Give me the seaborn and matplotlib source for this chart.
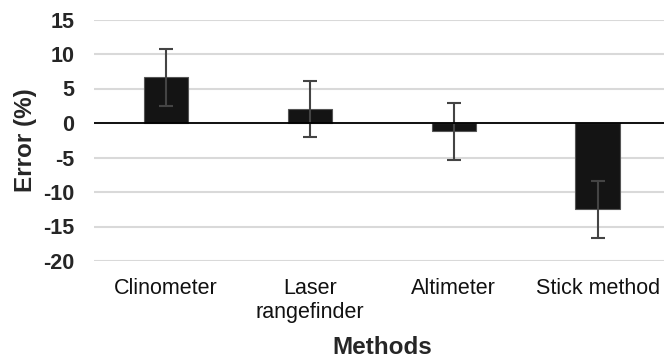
import pandas as pd
import numpy as np
import matplotlib.pyplot as plt
import seaborn as sns

methods = ['Clinometer', 'Laser\nrangefinder', 'Altimeter', 'Stick method']
error_pct = [6.6, 2.0, -1.2, -12.5]
error_sd = [4.1, 4.1, 4.1, 4.1]

df = pd.DataFrame({'Methods': methods, 'Error': error_pct, 'SD': error_sd})

sns.set_style('white')
plt.rcParams['font.family'] = ['Liberation Sans', 'DejaVu Sans']
plt.rcParams['axes.unicode_minus'] = False

fig = plt.figure(figsize=(6.64, 3.61), dpi=100)
ax = fig.add_axes([94 / 664, 1 - 261 / 361, 1 - 94 / 664, (261 - 19.5) / 361])

sns.barplot(data=df, x='Methods', y='Error', color='#141414', width=0.31,
            errorbar=None, edgecolor='#555555', linewidth=0.8, ax=ax, zorder=3)
ax.errorbar(np.arange(len(methods)), df['Error'], yerr=df['SD'], fmt='none',
            ecolor='#444444', elinewidth=1.5, capsize=5, capthick=1.5, zorder=4)

ax.set_ylim(-20, 15)
ax.set_yticks(range(-20, 16, 5))
ax.set_xlim(-0.5, 3.46)
ax.yaxis.grid(True, color='#d9d9d9', linewidth=1.5, zorder=0)
ax.axhline(0, color='black', linewidth=1.3, zorder=5)
for s in ax.spines.values():
    s.set_visible(False)

ax.tick_params(axis='y', length=0, pad=14, labelsize=15.5)
ax.tick_params(axis='x', length=0, pad=12, labelsize=15.5, labelcolor='#111111')
for t in ax.get_yticklabels():
    t.set_fontweight('bold')
ax.set_ylabel('Error (%)', fontsize=17.5, fontweight='bold')
ax.set_xlabel('Methods', fontsize=17.5, fontweight='bold')
ax.yaxis.set_label_coords(-0.1, 0.5)
ax.xaxis.set_label_coords(0.505, -0.31)

fig.savefig('out.png', dpi=100)
